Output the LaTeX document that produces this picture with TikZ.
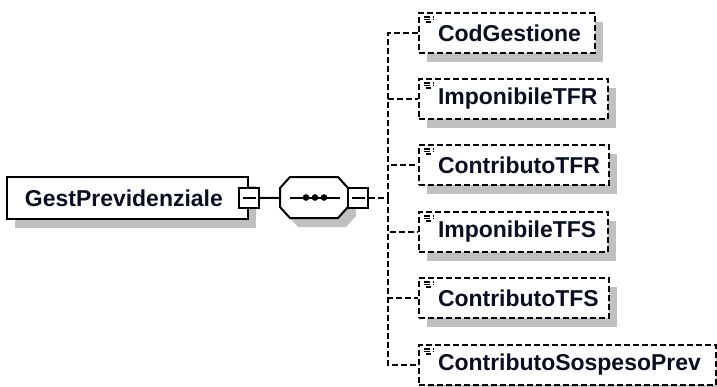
\documentclass[tikz,border=0pt]{standalone}
\usepackage{fontspec}
\setmainfont{Liberation Sans}
\usepackage{xcolor}
\definecolor{xsdtext}{RGB}{10,14,35}
\definecolor{xsdshadow}{RGB}{192,192,192}
\usetikzlibrary{shadows, calc}

\tikzset{
  xsdline/.style={draw=black, line width=0.06cm},
  xsddash/.style={xsdline, dash pattern=on 0.17cm off 0.1cm},
  xsdshade/.style={drop shadow={shadow xshift=0.25cm, shadow yshift=-0.26cm, fill=xsdshadow, opacity=1}},
  rootbox/.style={xsdline, fill=white, xsdshade, minimum height=1.26cm, inner xsep=0.54cm,
    align=left, text=xsdtext, font=\fontsize{19.6pt}{22pt}\selectfont\bfseries},
  elembox/.style={rootbox, xsddash, minimum height=1.2cm, inner xsep=0.57cm, anchor=west,
    path picture={
      \draw[line width=0.05cm] ($(path picture bounding box.north west)+(0.15cm,-0.11cm)$) -- +(0.3cm,0);
      \draw[line width=0.05cm] ($(path picture bounding box.north west)+(0.15cm,-0.19cm)$) -- +(0.3cm,0);
      \draw[line width=0.05cm] ($(path picture bounding box.north west)+(0.2cm,-0.27cm)$) -- +(0.23cm,0);
    }},
  minusbox/.style={xsdline, fill=white, minimum width=0.6cm, minimum height=0.62cm, inner sep=0pt,
    path picture={
      \draw[line width=0.06cm] ($(path picture bounding box.west)+(0.13cm,0)$) -- ($(path picture bounding box.east)+(-0.08cm,0)$);
    }},
  seqbox/.style={rectangle, minimum width=2.04cm, minimum height=1.23cm, inner sep=0pt}
}

\begin{document}
\begin{tikzpicture}[x=0.03cm, y=-0.03cm]
  % canvas
  \fill[white] (0,0) rectangle (717,387);
  \useasboundingbox (0,0) rectangle (717,387);

  % --- root element ---
  \node[rootbox, text width=6.15cm] (root) at (127.5,198) {GestPrevidenziale};
  \node[minusbox] (rootminus) at (root.east) {};

  % --- sequence compositor (octagon) ---
  \fill[xsdshadow] (298,186) -- (346,186) -- (356,197) -- (356,216) -- (346,227) -- (298,227) -- (288,216) -- (288,197) -- cycle;
  \draw[xsdline, fill=white] (290,177) -- (338,177) -- (348,188) -- (348,207) -- (338,218) -- (290,218) -- (280,207) -- (280,188) -- cycle;
  \node[seqbox] (seq) at (314,197.5) {};
  \draw[line width=0.06cm] ($(seq.center)+(-24,0)$) -- ($(seq.center)+(26,0)$);
  \fill ($(seq.center)+(-8,0)$) circle[radius=0.1cm];
  \fill ($(seq.center)+(1,0)$) circle[radius=0.1cm];
  \fill ($(seq.center)+(10,0)$) circle[radius=0.1cm];
  \node[minusbox] (seqminus) at (358,198) {};
  \coordinate (fork) at (388,198);

  % --- child elements ---
  \node[elembox, text width=4.14cm] (codgest) at (418,33) {CodGestione};
  \node[elembox, text width=4.53cm] (imptfr) at (418,99) {ImponibileTFR};
  \node[elembox, text width=4.56cm] (contrtfr) at (418,165) {ContributoTFR};
  \node[elembox, text width=4.53cm] (imptfs) at (418,232) {ImponibileTFS};
  \node[elembox, text width=4.56cm] (contrtfs) at (418,298) {ContributoTFS};
  \node[elembox, text width=7.77cm] (contrsosp) at (418,365) {ContributoSospesoPrev};

  % --- connectors ---
  \draw[xsdline] (rootminus) -- (seq);
  \draw[xsddash] (seqminus) -- (fork);
  \draw[xsddash] (fork) |- (codgest.west);
  \draw[xsddash] (fork) |- (imptfr.west);
  \draw[xsddash] (fork) |- (contrtfr.west);
  \draw[xsddash] (fork) |- (imptfs.west);
  \draw[xsddash] (fork) |- (contrtfs.west);
  \draw[xsddash] (fork) |- (contrsosp.west);
\end{tikzpicture}
\end{document}
